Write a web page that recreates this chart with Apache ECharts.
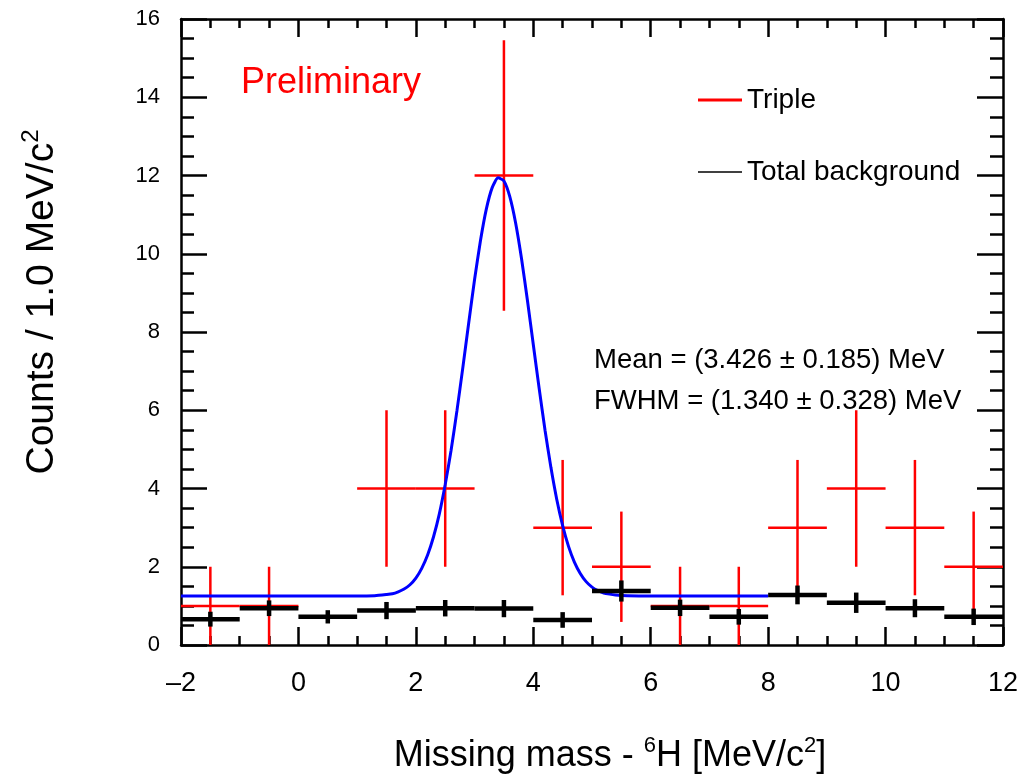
<!DOCTYPE html>
<html>
<head>
<meta charset="utf-8">
<script src="https://cdn.jsdelivr.net/npm/echarts@6/dist/echarts.min.js"></script>
<style>
  html, body { margin: 0; padding: 0; background: #fff; }
  #main { width: 1024px; height: 779px; }
</style>
</head>
<body>
<div id="main"></div>
<script>
// bins of 1 MeV
var binCenters  = [-1.5, -0.5, 0.5, 1.5, 2.5, 3.5, 4.5, 5.5, 6.5, 7.5, 8.5, 9.5, 10.5, 11.5];
var binHalf     = 0.5;
// Triple (red)
var tripleCounts = [1, 1, 0, 4, 4, 12, 3, 2, 1, 1, 3, 4, 3, 2];
var tripleErr    = [1, 1, 0, 2, 2, 3.46, 1.73, 1.41, 1, 1, 1.73, 2, 1.73, 1.41];
// Total background (black)
var bgCounts = [0.66, 0.94, 0.72, 0.88, 0.94, 0.93, 0.64, 1.38, 0.95, 0.72, 1.28, 1.08, 0.94, 0.72];
var bgErr    = [0.19, 0.2, 0.17, 0.22, 0.21, 0.22, 0.2, 0.27, 0.21, 0.2, 0.24, 0.26, 0.23, 0.21];
// fit curve (blue)
var fitX = [-2, 0, 1, 1.3, 1.5, 1.6, 1.7, 1.8, 1.9, 2.0, 2.1, 2.2, 2.3, 2.4, 2.5, 2.6, 2.7, 2.8, 2.9,
            3.0, 3.1, 3.2, 3.3, 3.4, 3.5, 3.6, 3.7, 3.8, 3.9, 4.0, 4.1, 4.2, 4.3, 4.4, 4.5, 4.6,
            4.7, 4.8, 4.9, 5.0, 5.1, 5.2, 5.3, 5.4, 5.6, 6, 7, 8];
var fitY = [1.25, 1.25, 1.25, 1.26, 1.29, 1.31, 1.36, 1.43, 1.54, 1.71, 1.96, 2.30, 2.76, 3.35, 4.10, 4.98, 5.99, 7.09, 8.23,
            9.34, 10.33, 11.14, 11.69, 11.94, 11.86, 11.46, 10.78, 9.87, 8.81, 7.68, 6.56, 5.49, 4.54, 3.72, 3.05, 2.52,
            2.12, 1.83, 1.62, 1.48, 1.39, 1.33, 1.30, 1.28, 1.26, 1.25, 1.25, 1.25];
var xTicks = { min: -2, max: 12, interval: 2 };
var yTicks = { min: 0, max: 16, interval: 2 };

var FONT = '"Liberation Sans", Arial, Helvetica, sans-serif';

var chart = echarts.init(document.getElementById('main'));

function errData(counts, errs) {
    var out = [];
    for (var i = 0; i < binCenters.length; i++) {
        out.push([binCenters[i], counts[i], errs[i]]);
    }
    return out;
}

function fitData() {
    var out = [];
    for (var i = 0; i < fitX.length; i++) out.push([fitX[i], fitY[i]]);
    return out;
}

// draws a histogram bin: horizontal bar across the bin + vertical error bar
function makeRender(color, width) {
    return function(params, api) {
        var x = api.value(0), y = api.value(1), e = api.value(2);
        if (y === 0) return null;
        var l = api.coord([x - binHalf, y]);
        var r = api.coord([x + binHalf, y]);
        var lo = api.coord([x, y - e]);
        var hi = api.coord([x, y + e]);
        var st = { stroke: color, lineWidth: width };
        return {
            type: 'group',
            children: [
                { type: 'line', shape: { x1: l[0], y1: l[1], x2: r[0], y2: r[1] }, style: st },
                { type: 'line', shape: { x1: lo[0], y1: lo[1], x2: hi[0], y2: hi[1] }, style: st }
            ]
        };
    };
}

function xAxisCfg(pos, showLabel) {
    return {
        type: 'value', position: pos,
        min: xTicks.min, max: xTicks.max, interval: xTicks.interval,
        axisLine: { onZero: false, lineStyle: { color: '#000', width: 2.5 } },
        axisTick: { inside: true, length: 18, lineStyle: { color: '#000', width: 2.5 } },
        minorTick: { show: true, splitNumber: 4, length: 9, lineStyle: { color: '#000', width: 2.5 } },
        splitLine: { show: false },
        axisLabel: {
            show: showLabel, fontSize: 27, color: '#000', fontFamily: FONT, margin: 25,
            formatter: function(v) { return String(v).replace('-', '\u2013'); }
        }
    };
}

function yAxisCfg(pos, showLabel) {
    return {
        type: 'value', position: pos,
        min: yTicks.min, max: yTicks.max, interval: yTicks.interval,
        axisLine: { onZero: false, lineStyle: { color: '#000', width: 2.5 } },
        axisTick: { inside: true, length: 26, lineStyle: { color: '#000', width: 2.5 } },
        minorTick: { show: true, splitNumber: 4, length: 13, lineStyle: { color: '#000', width: 2.5 } },
        splitLine: { show: false },
        axisLabel: { show: showLabel, fontSize: 22, color: '#000', fontFamily: FONT, margin: 21 }
    };
}

var supStyle = function(size, raise) {
    return { fontSize: size, fontFamily: FONT, lineHeight: size, padding: [0, 0, raise, 0], fill: '#000' };
};

var option = {
    animation: false,
    backgroundColor: '#fff',
    grid: { left: 181, right: 21, top: 19, bottom: 134, containLabel: false },
    xAxis: [xAxisCfg('bottom', true), xAxisCfg('top', false)],
    yAxis: [yAxisCfg('left', true), yAxisCfg('right', false)],
    legend: {
        orient: 'vertical', left: 693, top: 79,
        itemWidth: 44, itemHeight: 3, itemGap: 40,
        selectedMode: false,
        textStyle: { fontSize: 28, color: '#000', fontFamily: FONT, lineHeight: 32 },
        data: [
            { name: 'Triple', icon: 'rect', itemStyle: { color: '#ff0000' } },
            { name: 'Total background', icon: 'path://M0,0H44V1.4H0Z', itemStyle: { color: '#000' } }
        ]
    },
    graphic: [
        { type: 'text', x: 241, y: 83,
          style: { text: 'Preliminary', fill: '#ff0000', font: '36px ' + FONT, verticalAlign: 'middle' } },
        { type: 'text', x: 594, y: 360,
          style: { text: 'Mean = (3.426 \u00b1 0.185) MeV', fill: '#000', font: '27.5px ' + FONT, verticalAlign: 'middle' } },
        { type: 'text', x: 594, y: 401,
          style: { text: 'FWHM = (1.340 \u00b1 0.328) MeV', fill: '#000', font: '27.5px ' + FONT, verticalAlign: 'middle' } },
        { type: 'text', x: 610, y: 756,
          style: {
              text: 'Missing mass - {sup|6}H [MeV/c{sup|2}]',
              fill: '#000', font: '36px ' + FONT, align: 'center', verticalAlign: 'middle',
              rich: { sup: supStyle(22, 20) }
          } },
        { type: 'text', x: 42, y: 302, rotation: Math.PI / 2,
          style: {
              text: 'Counts / 1.0 MeV/c{sup|2}',
              fill: '#000', font: '39px ' + FONT, align: 'center', verticalAlign: 'middle',
              rich: { sup: supStyle(24, 22) }
          } }
    ],
    series: [
        {
            name: 'Triple', type: 'custom',
            xAxisIndex: 0, yAxisIndex: 0,
            itemStyle: { color: '#ff0000' },
            renderItem: makeRender('#ff0000', 2.5),
            data: errData(tripleCounts, tripleErr),
            z: 2
        },
        {
            name: 'Fit', type: 'line',
            xAxisIndex: 0, yAxisIndex: 0,
            showSymbol: false, smooth: 0.2,
            lineStyle: { color: '#0000ff', width: 3 },
            itemStyle: { color: '#0000ff' },
            data: fitData(),
            z: 3
        },
        {
            name: 'Total background', type: 'custom',
            xAxisIndex: 0, yAxisIndex: 0,
            itemStyle: { color: '#000' },
            renderItem: makeRender('#000', 4.5),
            data: errData(bgCounts, bgErr),
            z: 4
        }
    ]
};
chart.setOption(option);
</script>
</body>
</html>
